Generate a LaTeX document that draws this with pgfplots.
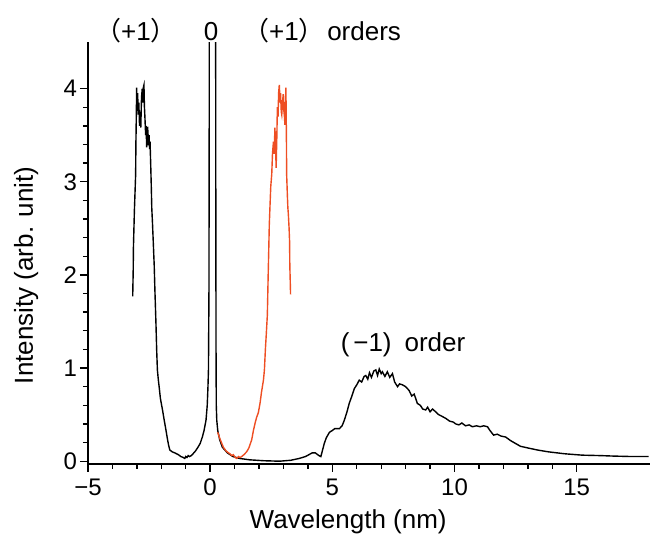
\documentclass[border=0pt]{standalone}
\usepackage{fontspec}
\setmainfont{Liberation Sans}
\newfontfamily\cjk{Noto Sans CJK SC}
\usepackage{pgfplots}
\pgfplotsset{compat=1.18}
\definecolor{redline}{RGB}{238,78,35}
\begin{document}
\begin{tikzpicture}
\begin{axis}[
 scale only axis, width=281pt, height=211pt,
 xmin=-5, xmax=18, ymin=-0.03, ymax=4.5,
 axis lines=left, axis line style={-, line width=0.75pt},
 tick align=outside, major tick length=4pt, minor tick length=2.5pt,
 every tick/.style={black, line width=0.7pt},
 xtick={-5,0,5,10,15}, xticklabels={−5,0,5,10,15},
 ytick={0,1,2,3,4},
 minor x tick num=4, minor y tick num=4,
 /pgf/number format/assume math mode=true,
 tick label style={font=\fontsize{12}{14}\selectfont},
 yticklabel style={xshift=2pt},
 xlabel={Wavelength (nm)}, ylabel={Intensity (arb. unit)},
 label style={font=\fontsize{13}{15}\selectfont},
 xlabel style={at={(axis description cs:0.463,-0.137)}, anchor=center},
 ylabel style={at={(axis description cs:-0.11,0.447)}, anchor=center},
 clip mode=individual,
]
\addplot[black, line width=0.7pt] coordinates {
(-3.17,1.77) (-3.15,2.05) (-3.14,2.3) (-3.12,2.50) (-3.10,2.7) (-3.08,2.85) (-3.05,3.08)
(-3.04,3.4) (-3.02,3.75) (-3.01,4.01) (-2.99,3.8) (-2.97,3.95) (-2.94,3.72) (-2.92,3.85)
(-2.89,3.6) (-2.86,3.75) (-2.84,3.58) (-2.81,3.9) (-2.78,4.0) (-2.76,3.85) (-2.73,4.02)
(-2.71,4.04) (-2.69,3.8) (-2.67,3.69) (-2.64,3.5) (-2.62,3.6) (-2.60,3.37) (-2.58,3.45)
(-2.56,3.59) (-2.53,3.45) (-2.50,3.5) (-2.48,3.35) (-2.46,3.43) (-2.43,3.15) (-2.41,2.95)
(-2.39,2.72) (-2.36,2.55) (-2.33,2.36) (-2.29,2.1) (-2.26,1.82) (-2.22,1.49) (-2.19,1.2)
(-2.16,0.98) (-2.12,0.87) (-2.08,0.78) (-2.04,0.68) (-2.00,0.62) (-1.95,0.55) (-1.90,0.47)
(-1.86,0.41) (-1.80,0.32) (-1.75,0.24) (-1.70,0.17) (-1.65,0.12) (-1.55,0.10) (-1.45,0.09)
(-1.38,0.08) (-1.30,0.07) (-1.20,0.05) (-1.10,0.04) (-1.04,0.03) (-1.00,0.05) (-0.95,0.04)
(-0.90,0.06) (-0.85,0.05) (-0.77,0.06) (-0.70,0.08) (-0.60,0.11) (-0.50,0.15) (-0.41,0.19)
(-0.32,0.26) (-0.25,0.33) (-0.17,0.44) (-0.12,0.6) (-0.09,0.8) (-0.07,0.98) (-0.05,1.8)
(-0.04,3.5) (-0.03,6) (0.10,20) (0.22,6) (0.23,3.0) (0.24,1.2) (0.25,0.6) (0.27,0.44)
(0.31,0.33) (0.39,0.23) (0.5,0.15) (0.7,0.09) (0.93,0.05) (1.2,0.03) (1.61,0.015)
(2.2,0.005) (2.84,0.0) (3.3,0.01) (3.65,0.03) (3.9,0.05) (4.18,0.09) (4.3,0.09) (4.45,0.06)
(4.53,0.05) (4.6,0.12) (4.67,0.19) (4.75,0.25) (4.88,0.31) (5.0,0.33) (5.1,0.35) (5.29,0.35)
(5.4,0.38) (5.49,0.44) (5.6,0.53) (5.69,0.62) (5.8,0.70) (5.9,0.78) (6.0,0.82) (6.1,0.87)
(6.2,0.85) (6.3,0.91) (6.37,0.92) (6.45,0.88) (6.52,0.95) (6.6,0.90) (6.7,0.97) (6.78,0.98)
(6.85,0.92) (6.92,0.99) (7.0,0.94) (7.05,0.96) (7.15,0.91) (7.25,0.96) (7.35,0.90) (7.46,0.94)
(7.55,0.85) (7.67,0.80) (7.75,0.83) (7.87,0.82) (8.0,0.80) (8.14,0.76) (8.25,0.70) (8.35,0.72)
(8.48,0.62) (8.6,0.60) (8.7,0.56) (8.82,0.55) (8.9,0.58) (9.0,0.53) (9.1,0.56) (9.23,0.53)
(9.35,0.50) (9.5,0.48) (9.64,0.46) (9.8,0.43) (9.95,0.42) (10.05,0.40) (10.18,0.39) (10.3,0.41)
(10.45,0.38) (10.6,0.39) (10.73,0.37) (10.9,0.38) (11.05,0.37) (11.2,0.38) (11.35,0.37)
(11.45,0.33) (11.6,0.28) (11.75,0.29) (11.9,0.27) (12.09,0.26) (12.3,0.22) (12.5,0.19)
(12.7,0.16) (13.04,0.14) (13.4,0.12) (13.86,0.10) (14.5,0.08) (15.22,0.065) (16.0,0.06)
(16.5,0.055) (17.26,0.05) (17.94,0.05)
};
\addplot[redline, line width=0.7pt] coordinates {
(0.31,0.31) (0.40,0.24) (0.54,0.15) (0.65,0.11) (0.75,0.09) (0.81,0.08) (0.88,0.06) (0.95,0.07)
(1.02,0.04) (1.09,0.03) (1.16,0.05) (1.22,0.04) (1.29,0.05) (1.38,0.07) (1.49,0.10) (1.58,0.14)
(1.70,0.23) (1.77,0.33) (1.84,0.41) (1.90,0.47) (1.97,0.52) (2.04,0.62) (2.10,0.74) (2.18,0.87)
(2.22,0.98) (2.26,1.2) (2.30,1.38) (2.34,1.57) (2.37,1.95) (2.40,2.3) (2.42,2.54) (2.45,2.75)
(2.48,2.95) (2.52,3.08) (2.55,3.3) (2.59,3.43) (2.62,3.3) (2.65,3.58) (2.68,3.35) (2.70,3.15)
(2.73,3.5) (2.75,3.80) (2.78,3.7) (2.80,3.95) (2.83,4.04) (2.86,3.85) (2.88,3.95) (2.91,3.75)
(2.93,3.72) (2.96,3.85) (2.99,3.94) (3.02,3.75) (3.04,3.7) (3.06,3.61) (3.08,3.85) (3.10,4.01)
(3.12,3.5) (3.13,3.08) (3.16,2.85) (3.18,2.72) (3.20,2.65) (3.23,2.5) (3.25,2.36) (3.26,2.1)
(3.28,1.9) (3.29,1.79)
};
\node[anchor=base, font=\fontsize{13}{15}\selectfont] at (axis cs:-3.04,4.52) {{\cjk （}+1{\cjk ）}};
\node[anchor=base, font=\fontsize{13}{15}\selectfont] at (axis cs:0.035,4.52) {0};
\node[anchor=base, font=\fontsize{13}{15}\selectfont] at (axis cs:3.02,4.52) {{\cjk （}+1{\cjk ）}};
\node[anchor=base, font=\fontsize{13}{15}\selectfont] at (axis cs:6.30,4.52) {orders};
\node[anchor=base west, inner sep=0pt, font=\fontsize{13}{15}\selectfont] at (axis cs:5.33,1.175) {(\hspace{0.15em}−1)\hspace{0.5em}order};
\end{axis}
\pgfresetboundingbox
\path[use as bounding box] (-44pt,-39pt) rectangle (281pt,232pt);
\end{tikzpicture}
\end{document}
